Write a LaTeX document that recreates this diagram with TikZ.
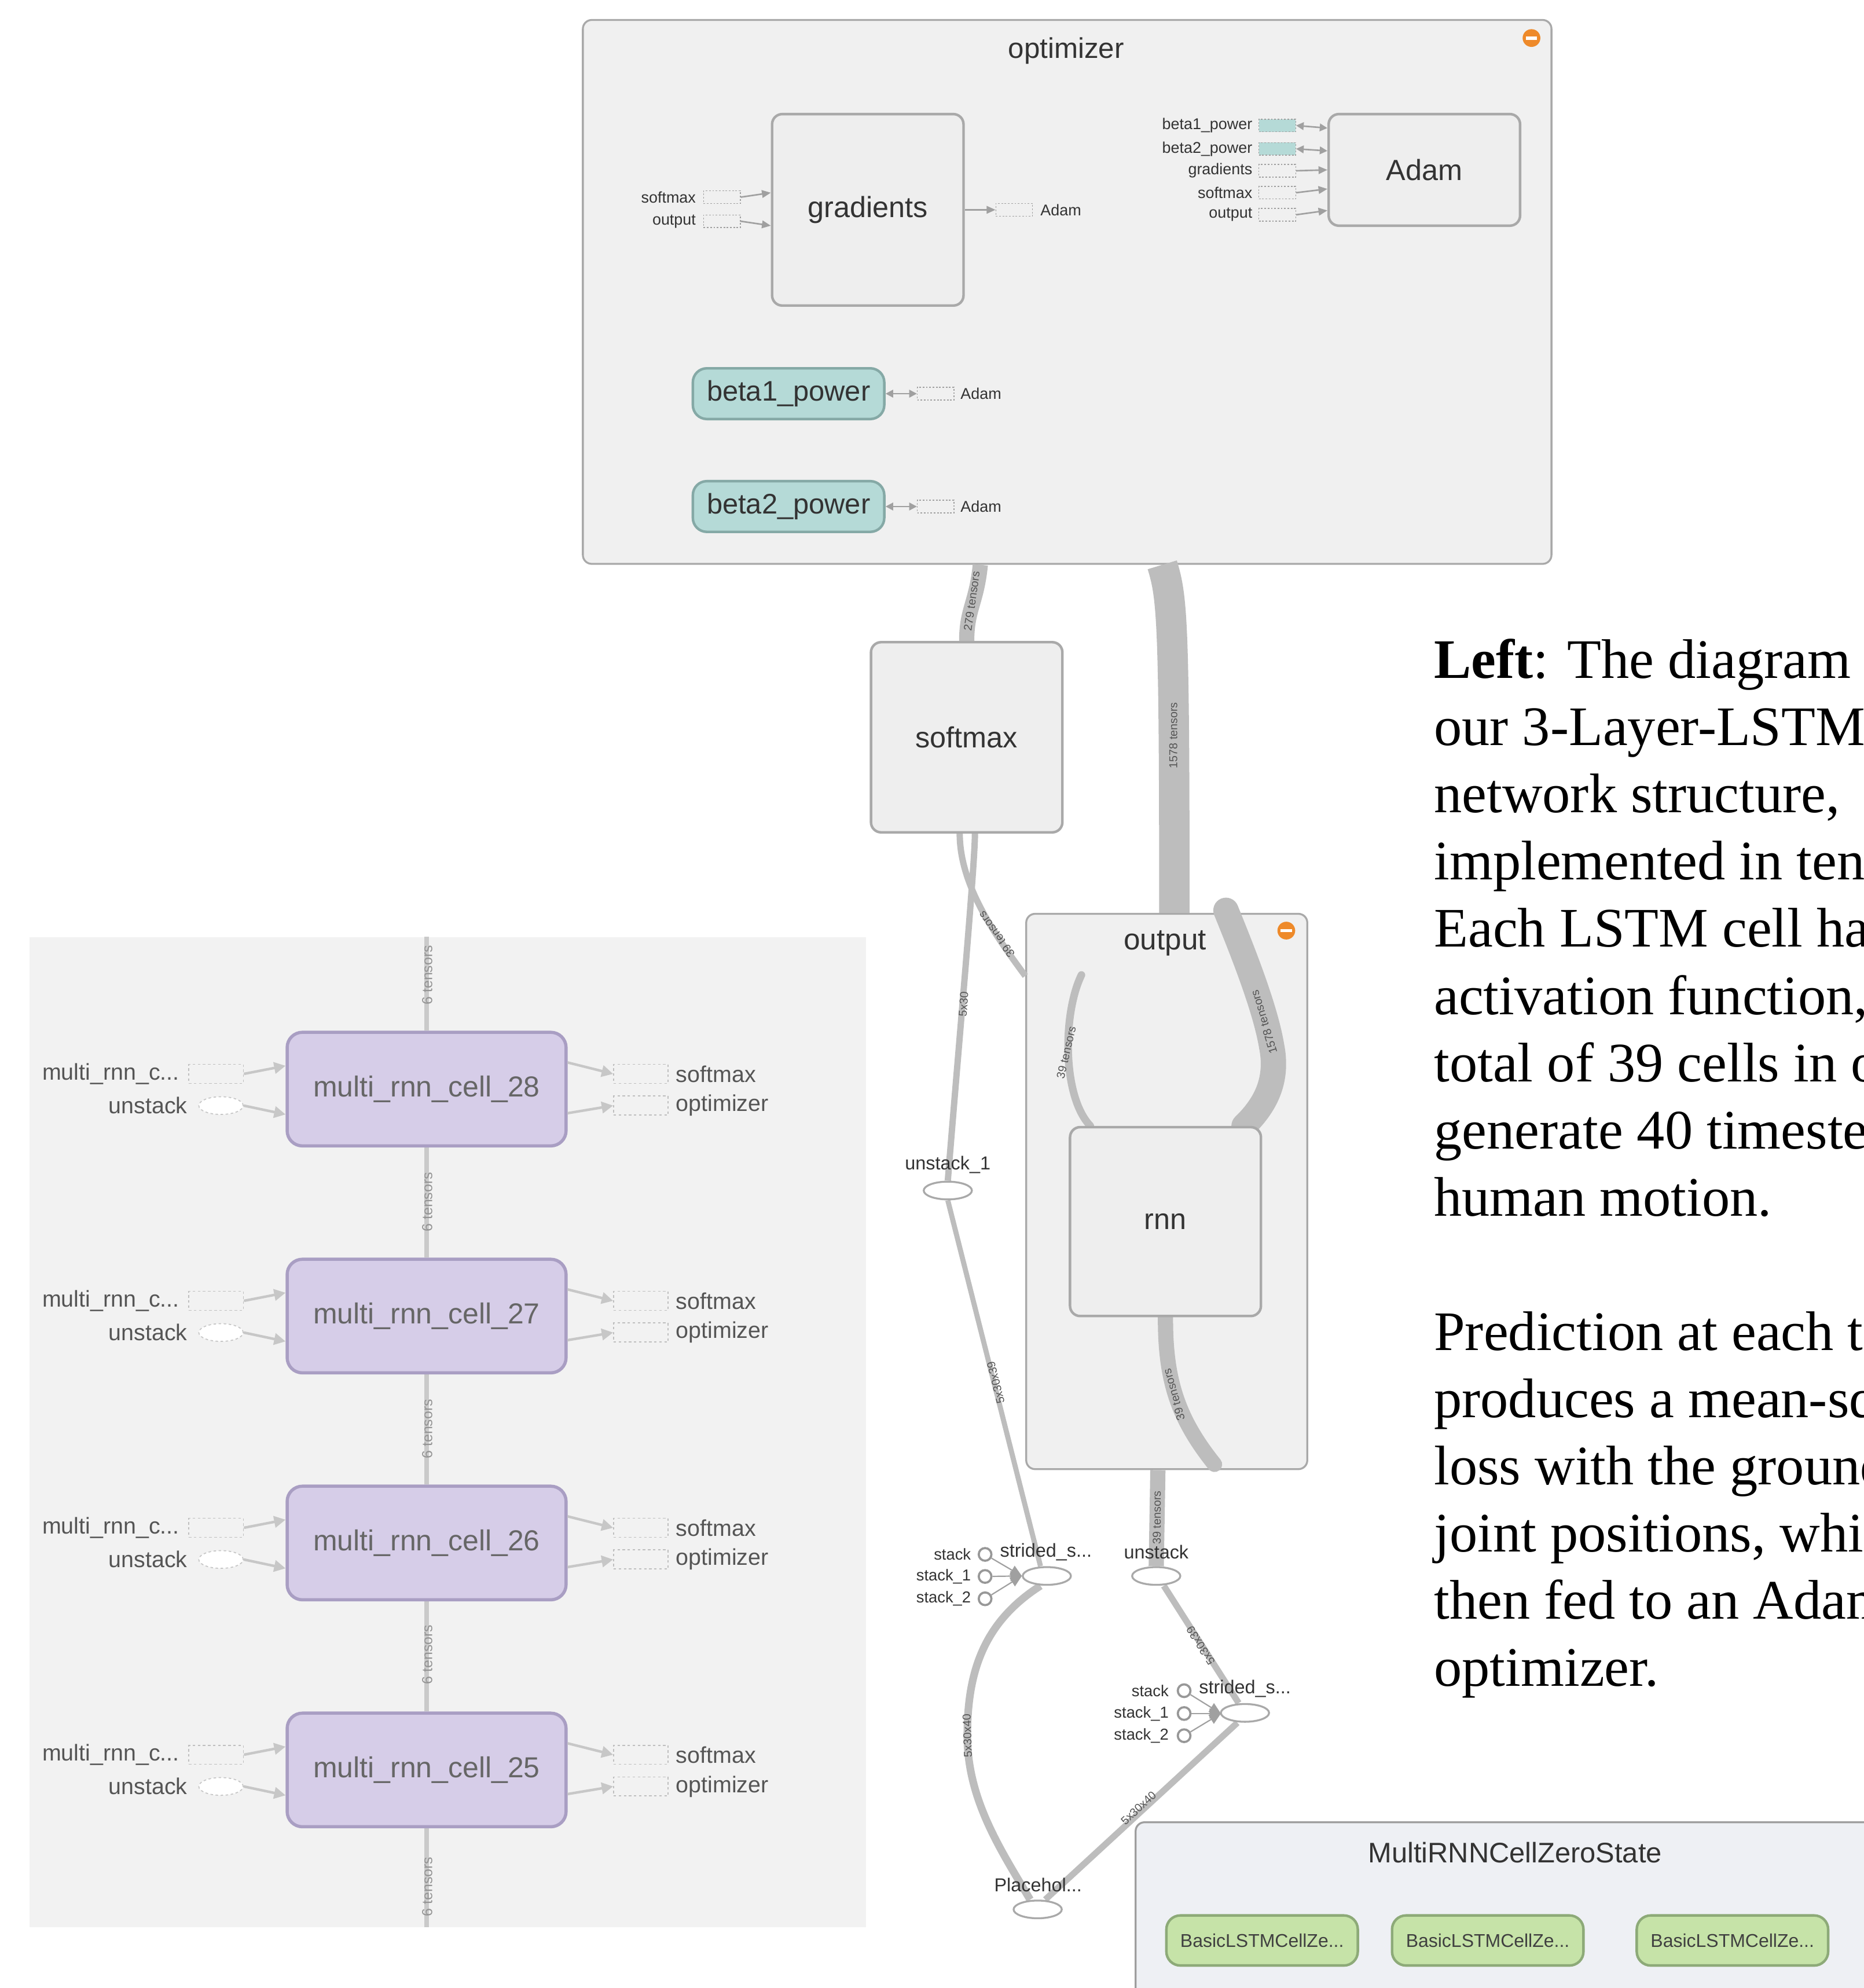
\documentclass[tikz,border=0pt]{standalone}
\usepackage{fontspec}
\setmainfont{Liberation Serif}
\newfontfamily\tbfont{Liberation Sans}
\usetikzlibrary{arrows.meta,shapes.geometric}
\pgfdeclarelayer{bglayer}
\pgfdeclarelayer{edgelayer}
\pgfsetlayers{bglayer,edgelayer,main}
\definecolor{boxfill}{HTML}{EEEEEE}
\definecolor{grpfill}{HTML}{F0F0F0}
\definecolor{boxdraw}{HTML}{A9A9A9}
\definecolor{edgegray}{HTML}{BDBDBD}
\definecolor{arrgray}{HTML}{A0A0A0}
\definecolor{tbtext}{HTML}{333333}
\definecolor{lbltext}{HTML}{555555}
\definecolor{tealfill}{HTML}{B5DAD7}
\definecolor{tealdraw}{HTML}{85A9A6}
\definecolor{purfill}{HTML}{D6CDE8}
\definecolor{purdraw}{HTML}{A99EC3}
\definecolor{grnfill}{HTML}{C6E3A8}
\definecolor{grndraw}{HTML}{8DAA78}
\definecolor{orng}{HTML}{EE8A2A}
\definecolor{panelfill}{HTML}{F2F2F2}
\definecolor{paneledge}{HTML}{CACACA}
\definecolor{panellbl}{HTML}{555555}
\definecolor{zsfill}{HTML}{EEF0F4}
\newcommand\myfs[1]{\fontsize{#1}{#1}\selectfont}
\tikzset{
  grp/.style={draw=boxdraw, fill=grpfill, line width=1.5pt, rounded corners=7pt, inner sep=0, anchor=north west},
  meta/.style={draw=boxdraw, fill=boxfill, line width=2pt, rounded corners=8pt, inner sep=0, font=\tbfont\myfs{23}, text=tbtext},
  pill/.style={rounded corners=11pt, line width=2pt, inner sep=0, font=\tbfont\myfs{22.3}, text=tbtext},
  small/.style={font=\tbfont\myfs{12.3}, text=tbtext, inner sep=0},
  elabel/.style={font=\tbfont\myfs{9}, text=lbltext, inner sep=0},
  dbox/.style={draw=arrgray, dash pattern=on 1.3pt off 1.3pt, line width=0.6pt, minimum width=29pt, minimum height=10pt, inner sep=0},
  tbedge/.style={draw=edgegray, line width=#1},
  tbarrow/.style={draw=arrgray, line width=1.2pt, -{Triangle[length=7pt,width=6pt]}},
  tbarrowtwo/.style={draw=arrgray, line width=1.2pt, {Triangle[length=6pt,width=6pt]}-{Triangle[length=6pt,width=6pt]}},
  opnode/.style={ellipse, draw=boxdraw, line width=1.5pt, fill=white, minimum width=38pt, minimum height=14pt, inner sep=0},
  oplabel/.style={font=\tbfont\myfs{14.8}, text=tbtext, inner sep=0},
  stk/.style={circle, draw=boxdraw!90!black, line width=1.7pt, fill=white, minimum size=10pt, inner sep=0},
  stklbl/.style={font=\tbfont\myfs{12.5}, text=tbtext, inner sep=0, anchor=east},
  stkline/.style={draw=arrgray, line width=1pt, -{Triangle[length=9pt,width=8pt]}},
  cellnode/.style={draw=purdraw, fill=purfill, line width=2.5pt, rounded corners=12pt, minimum width=220pt, minimum height=89.6pt, inner sep=0, font=\tbfont\myfs{22.8}, text=black!60},
  plbl/.style={font=\tbfont\myfs{18}, text=panellbl, inner sep=0},
  pbox/.style={draw=black!25, dash pattern=on 2pt off 2pt, line width=0.8pt, minimum width=43pt, minimum height=15pt, inner sep=0},
  parrow/.style={draw=black!22, line width=2pt, -{Triangle[length=9pt,width=9pt]}},
  ptens/.style={font=\tbfont\myfs{11.4}, text=black!42, inner sep=0, rotate=90},
  grnnode/.style={draw=grndraw, fill=grnfill, line width=2pt, rounded corners=11pt, minimum width=151pt, minimum height=39.5pt, inner sep=0, font=\tbfont\myfs{14.6}, text=black!75},
  para/.style={font=\myfs{44}, inner sep=0, anchor=base west},
  minus/.style={circle, fill=orng, minimum size=14pt, inner sep=0}
}
\begin{document}
\begin{tikzpicture}[x=1pt,y=-1pt]
\useasboundingbox (0,0) rectangle (1470,1568);
\begin{pgfonlayer}{bglayer}
  \fill[white] (0,0) rectangle (1470,1568);
  \node[grp, minimum width=764pt, minimum height=429pt] (optimizer) at (459,15) {};
  \node[grp, minimum width=221.7pt, minimum height=438pt] (output) at (808.7,720) {};
  \node[grp, fill=zsfill, draw=black!38, minimum width=640pt, minimum height=220pt] (zs) at (895,1436.5) {};
  \node[anchor=north west, fill=panelfill, minimum width=660pt, minimum height=781pt, inner sep=0] (panel) at (23,739) {};
\end{pgfonlayer}
\clip (0,0) rectangle (1470,1568);

% ---------- optimizer group ----------
\node[font=\tbfont\myfs{22.5}, text=tbtext, inner sep=0] (opttitle) at (841,40) {optimizer};
\node[minus] (optmin) at (1208,30) {};
\fill[white] ([xshift=-4.5pt,yshift=-1.3pt]optmin.center) rectangle ([xshift=4.5pt,yshift=1.3pt]optmin.center);

\node[meta, minimum width=151pt, minimum height=151pt] (gradients) at (684.5,165.5) {gradients};
\node[meta, minimum width=151pt, minimum height=88pt] (adam) at (1123.5,134) {Adam};
\node[pill, draw=tealdraw, fill=tealfill, minimum width=151pt, minimum height=40pt] (beta1) at (622,310.5) {beta1\_power};
\node[pill, draw=tealdraw, fill=tealfill, minimum width=151pt, minimum height=40pt] (beta2) at (622,399.5) {beta2\_power};

\node[dbox] (gsm) at (569.5,155.5) {};
\node[small, anchor=east] (gsmlbl) at (549,155.5) {softmax};
\node[dbox] (gout) at (569.5,174.5) {};
\node[small, anchor=east] (goutlbl) at (549,174.5) {output};
\draw[tbarrow] (gsm.east) -- ([yshift=13.5pt]gradients.west);
\draw[tbarrow] (gout.east) -- ([yshift=-12.5pt]gradients.west);
\node[dbox] (gadam) at (800,165.5) {};
\node[small, anchor=west] (gadamlbl) at (820.5,165.5) {Adam};
\draw[tbarrow] (gradients.east) -- (gadam.west);

\node[dbox, fill=tealfill] (ab1) at (1007.5,99) {};
\node[small, anchor=east] (ab1lbl) at (988,99) {beta1\_power};
\node[dbox, fill=tealfill] (ab2) at (1007.5,117.4) {};
\node[small, anchor=east] (ab2lbl) at (988,117.4) {beta2\_power};
\node[dbox] (agr) at (1007.5,134.7) {};
\node[small, anchor=east] (agrlbl) at (988,134.7) {gradients};
\node[dbox] (asm) at (1007.5,152) {};
\node[small, anchor=east] (asmlbl) at (988,152) {softmax};
\node[dbox] (aout) at (1007.5,169.4) {};
\node[small, anchor=east] (aoutlbl) at (988,169.4) {output};
\draw[tbarrowtwo] (ab1.east) -- ([yshift=33pt]adam.west);
\draw[tbarrowtwo] (ab2.east) -- ([yshift=15pt]adam.west);
\draw[tbarrow] (agr.east) -- ([yshift=0pt]adam.west);
\draw[tbarrow] (asm.east) -- ([yshift=-15pt]adam.west);
\draw[tbarrow] (aout.east) -- ([yshift=-32pt]adam.west);

\node[dbox] (b1ref) at (738,310.5) {};
\node[small, anchor=west] (b1reflbl) at (757.5,310.5) {Adam};
\draw[tbarrowtwo] (beta1.east) -- (b1ref.west);
\node[dbox] (b2ref) at (738,399.5) {};
\node[small, anchor=west] (b2reflbl) at (757.5,399.5) {Adam};
\draw[tbarrowtwo] (beta2.east) -- (b2ref.west);

% ---------- softmax / output / rnn ----------
\node[meta, minimum width=151pt, minimum height=150pt] (softmax) at (762.5,581.5) {softmax};
\node[font=\tbfont\myfs{23.4}, text=tbtext, inner sep=0] (outtitle) at (919,744) {output};
\node[minus] (outmin) at (1014.6,734) {};
\fill[white] ([xshift=-4.5pt,yshift=-1.3pt]outmin.center) rectangle ([xshift=4.5pt,yshift=1.3pt]outmin.center);
\node[meta, minimum width=150.6pt, minimum height=149pt] (rnn) at (919.3,963.5) {rnn};

% ---------- op nodes ----------
\node[opnode] (unstackA) at (747.6,939) {};
\node[oplabel] (unstackAlbl) at (747.6,918.5) {unstack\_1};
\node[opnode] (ssA) at (825.7,1243) {};
\node[oplabel] (ssAlbl) at (825,1224) {strided\_s...};
\node[opnode] (unstackB) at (912,1243) {};
\node[oplabel] (unstackBlbl) at (912,1224) {unstack};
\node[opnode] (ssB) at (982,1351) {};
\node[oplabel] (ssBlbl) at (982,1332) {strided\_s...};
\node[opnode] (placeholder) at (818.5,1506) {};
\node[oplabel] (placeholderlbl) at (818.8,1486.5) {Placehol...};

\node[stk] (sa1) at (777,1226) {};
\node[stk] (sa2) at (777,1243.4) {};
\node[stk] (sa3) at (777,1261) {};
\node[stklbl] (sa1l) at (766,1226) {stack};
\node[stklbl] (sa2l) at (766,1243.4) {stack\_1};
\node[stklbl] (sa3l) at (766,1261) {stack\_2};
\coordinate (tipA) at (806,1243);
\draw[stkline] (sa1) -- (tipA);
\draw[stkline] (sa2) -- (tipA);
\draw[stkline] (sa3) -- (tipA);

\node[stk] (sb1) at (934,1333.5) {};
\node[stk] (sb2) at (934,1351.5) {};
\node[stk] (sb3) at (934,1369) {};
\node[stklbl] (sb1l) at (922,1333.5) {stack};
\node[stklbl] (sb2l) at (922,1351.5) {stack\_1};
\node[stklbl] (sb3l) at (922,1369) {stack\_2};
\coordinate (tipB) at (963,1351.5);
\draw[stkline] (sb1) -- (tipB);
\draw[stkline] (sb2) -- (tipB);
\draw[stkline] (sb3) -- (tipB);

% ---------- edges ----------
\coordinate (innerend) at (853,769);
\coordinate (bigend) at (967,718);
\coordinate (lowend) at (958,1155);
\begin{pgfonlayer}{edgelayer}
  \draw[tbedge=12pt] ([xshift=-68.5pt]optimizer.south) .. controls +(-3,30) and +(0,-25) .. (softmax.north);
  \draw[tbedge=24pt] ([xshift=75pt]optimizer.south) .. controls +(8,26) and +(0,-230) .. ([xshift=6pt]output.north);
  \draw[tbedge=5pt] ([xshift=-5.5pt]softmax.south) .. controls +(0,42) and +(-22,-30) .. ([yshift=170pt]output.west);
  \draw[tbedge=5pt] ([xshift=6.5pt]softmax.south) .. controls +(0,25) and +(8,-100) .. (unstackA.north);
  \draw[tbedge=4pt] (unstackA.south) -- ([xshift=-5pt]ssA.north);
  \draw[tbedge=6pt, line cap=round] ([xshift=-59.3pt]rnn.north) .. controls (838,865) and (838,800) .. (innerend);
  \draw[tbedge=20pt, line cap=round] ([xshift=62pt]rnn.north) .. controls (1000,870) and (1008,850) .. (1003,825) .. controls (998,795) and (980,750) .. (bigend);
  \draw[tbedge=12pt, line cap=round] (rnn.south) .. controls (919,1090) and (930,1120) .. (lowend);
  \draw[tbedge=12pt] ([xshift=-7pt]output.south) -- (unstackB.north);
  \draw[tbedge=5pt] ([xshift=6pt]unstackB.south) -- ([xshift=-5pt]ssB.north);
  \draw[tbedge=6pt] ([xshift=-5pt]ssA.south) .. controls (775,1280) and (763,1320) .. (763,1369) .. controls (763,1420) and (790,1460) .. ([xshift=-6pt]placeholder.north);
  \draw[tbedge=5pt] ([xshift=-6pt]ssB.south) -- ([xshift=6pt]placeholder.north);
\end{pgfonlayer}
\node[elabel, rotate=82] (l279) at (766.5,474) {279 tensors};
\node[elabel, rotate=90] (l1578a) at (925.5,580) {1578 tensors};
\node[elabel, rotate=126] (l39a) at (786,737) {39 tensors};
\node[elabel, rotate=86] (l5x30) at (760,792) {5x30};
\node[elabel, rotate=104] (l53039a) at (785.4,1090.5) {5x30x39};
\node[elabel, rotate=77] (l39b) at (841,830) {39 tensors};
\node[elabel, rotate=107] (l1578b) at (997,806) {1578 tensors};
\node[elabel, rotate=106] (l39c) at (926,1100) {39 tensors};
\node[elabel, rotate=90] (l39d) at (912.5,1197) {39 tensors};
\node[elabel, rotate=122] (l53039b) at (947,1298) {5x30x39};
\node[elabel, rotate=92] (l53040a) at (763,1369) {5x30x40};
\node[elabel, rotate=43] (l53040b) at (898,1426) {5x30x40};

% ---------- MultiRNNCellZeroState ----------
\node[font=\tbfont\myfs{22.3}, text=tbtext, inner sep=0] (zstitle) at (1195,1461) {MultiRNNCellZeroState};
\node[grnnode] (bz1) at (995.5,1530.5) {BasicLSTMCellZe...};
\node[grnnode] (bz2) at (1173.5,1530.5) {BasicLSTMCellZe...};
\node[grnnode] (bz3) at (1366.5,1530.5) {BasicLSTMCellZe...};

% ---------- left panel ----------
\foreach \cid/\yc in {28/859, 27/1038, 26/1217, 25/1396} {
  \node[cellnode] (cell\cid) at (336.5,\yc) {multi\_rnn\_cell\_\cid};
  \node[plbl, anchor=east] (mrcl\cid) at (141.6,\yc-12) {multi\_rnn\_c...};
  \node[pbox] (mrcb\cid) at (170.5,\yc-12) {};
  \node[plbl, anchor=east] (unsl\cid) at (148,\yc+13) {unstack};
  \node[ellipse, draw=black!22, dash pattern=on 2pt off 2pt, line width=0.8pt, fill=white, minimum width=35pt, minimum height=14pt, inner sep=0] (unsb\cid) at (174.3,\yc+13) {};
  \draw[parrow] (mrcb\cid.east) -- ([yshift=18.4pt]cell\cid.west);
  \draw[parrow] (unsb\cid.east) -- ([yshift=-20pt]cell\cid.west);
  \node[pbox] (smb\cid) at (505.5,\yc-12) {};
  \node[pbox] (opb\cid) at (505.5,\yc+13) {};
  \draw[parrow] ([yshift=21pt]cell\cid.east) -- (smb\cid.west);
  \draw[parrow] ([yshift=-19pt]cell\cid.east) -- (opb\cid.west);
  \node[plbl, anchor=west] (sml\cid) at (533,\yc-12) {softmax};
  \node[plbl, anchor=west] (opl\cid) at (533,\yc+13) {optimizer};
}
\coordinate (ptop) at (336.5,739);
\coordinate (pbot) at (336.5,1520);
\begin{pgfonlayer}{edgelayer}
  \draw[paneledge, line width=3.5pt] (ptop) -- (cell28.north);
  \draw[paneledge, line width=3.5pt] (cell28.south) -- (cell27.north);
  \draw[paneledge, line width=3.5pt] (cell27.south) -- (cell26.north);
  \draw[paneledge, line width=3.5pt] (cell26.south) -- (cell25.north);
  \draw[paneledge, line width=3.5pt] (cell25.south) -- (pbot);
\end{pgfonlayer}
\node[ptens] (pt1) at (337,769) {6 tensors};
\node[ptens] (pt2) at (337,948) {6 tensors};
\node[ptens] (pt3) at (337,1127) {6 tensors};
\node[ptens] (pt4) at (337,1305) {6 tensors};
\node[ptens] (pt5) at (337,1488) {6 tensors};

% ---------- paragraph ----------
\node[para] (t1) at (1131,535) {\textbf{Left}: The diagram o};
\node[para] (t2) at (1131,588) {our 3-Layer-LSTM};
\node[para] (t3) at (1131,641) {network structure,};
\node[para] (t4) at (1131,694) {implemented in ten};
\node[para] (t5) at (1131,747) {Each LSTM cell ha};
\node[para] (t6) at (1131,800) {activation function,};
\node[para] (t7) at (1131,853) {total of 39 cells in o};
\node[para] (t8) at (1131,906) {generate 40 timeste};
\node[para] (t9) at (1131,959) {human motion.};
\node[para] (t10) at (1131,1065) {Prediction at each ti};
\node[para] (t11) at (1131,1118) {produces a mean-sq};
\node[para] (t12) at (1131,1171) {loss with the ground};
\node[para] (t13) at (1131,1224) {joint positions, whi};
\node[para] (t14) at (1131,1277) {then fed to an Adam};
\node[para] (t15) at (1131,1330) {optimizer.};
\end{tikzpicture}
\end{document}
